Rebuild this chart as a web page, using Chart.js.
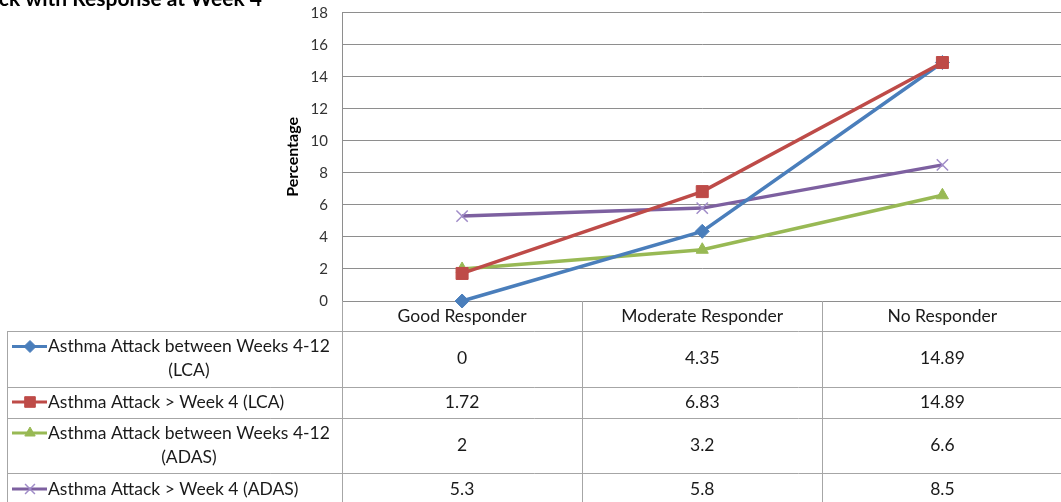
<!DOCTYPE html>
<html>
<head>
<meta charset="utf-8">
<script src="https://cdn.jsdelivr.net/npm/chart.js@4.4.1/dist/chart.umd.min.js"></script>
<style>
  html, body { margin: 0; padding: 0; background: #fff; overflow: hidden; }
</style>
</head>
<body>
<canvas id="myChart" width="1072" height="502"></canvas>
<script>
// Datos del gráfico
const categories = ['Good Responder', 'Moderate Responder', 'No Responder'];
const seriesNames = [
  ['Asthma Attack between Weeks 4-12', '(LCA)'],
  ['Asthma Attack > Week 4 (LCA)'],
  ['Asthma Attack between Weeks 4-12', '(ADAS)'],
  ['Asthma Attack > Week 4 (ADAS)']
];
const lcaBetween = [0, 4.35, 14.89];
const lcaAfter = [1.72, 6.83, 14.89];
const adasBetween = [2, 3.2, 6.6];
const adasAfter = [5.3, 5.8, 8.5];
const yTicks = [0, 2, 4, 6, 8, 10, 12, 14, 16, 18];
const titleText = 'Asthma Attack with Response at Week 4';

const FONT = 'Lato, "Liberation Sans", sans-serif';
const GRID = '#8e8e8e';
const TABLE_LINE = '#a6a6a6';

// Filas de la tabla (bordes y centro de texto)
const rowLines = [331, 386.5, 417.5, 473];
const rowMids = [358.5, 402, 445, 489];

const ctx = document.getElementById('myChart').getContext('2d');

// Plugin para dibujar la tabla de datos y el título recortado
const dataTable = {
  id: 'dataTable',
  afterDraw(chart) {
    const c = chart.ctx;
    const area = chart.chartArea;
    const xs = chart.scales.x;
    const colW = (area.right - area.left) / categories.length;
    c.save();

    // título (recortado arriba)
    c.fillStyle = '#000';
    c.font = 'bold 21px ' + FONT;
    c.textAlign = 'right';
    c.textBaseline = 'alphabetic';
    c.fillText(titleText, 262, 6);

    // líneas de la tabla
    c.strokeStyle = TABLE_LINE;
    c.lineWidth = 1;
    c.beginPath();
    rowLines.forEach(y => {
      c.moveTo(7, Math.round(y) + 0.5);
      c.lineTo(area.right, Math.round(y) + 0.5);
    });
    c.moveTo(7.5, rowLines[0]);
    c.lineTo(7.5, 502);
    for (let i = 1; i < categories.length; i++) {
      const x = Math.round(area.left + colW * i) + 0.5;
      c.moveTo(x, area.bottom);
      c.lineTo(x, 502);
    }
    c.moveTo(Math.round(area.left) + 0.5, area.bottom);
    c.lineTo(Math.round(area.left) + 0.5, 502);
    c.stroke();

    // filas
    c.font = '17.5px ' + FONT;
    c.textBaseline = 'middle';
    chart.data.datasets.forEach((ds, i) => {
      const mid = rowMids[i];
      const lines = seriesNames[i];
      const lh = 24;
      const firstY = mid - (lines.length - 1) * lh / 2;

      // clave de leyenda
      c.strokeStyle = ds.borderColor;
      c.lineWidth = 3;
      c.beginPath();
      c.moveTo(12, firstY);
      c.lineTo(47, firstY);
      c.stroke();
      c.fillStyle = ds.pointBackgroundColor;
      c.strokeStyle = ds.pointBorderColor;
      c.lineWidth = ds.pointBorderWidth;
      Chart.helpers.drawPoint(c, {
        pointStyle: ds.pointStyle,
        radius: ds.pointRadius - 1,
        rotation: 0,
        borderWidth: ds.pointBorderWidth
      }, 30, firstY);

      // texto
      c.fillStyle = '#1a1a1a';
      const blockW = Math.max(...lines.map(l => c.measureText(l).width));
      c.textAlign = 'center';
      lines.forEach((l, k) => c.fillText(l, 48 + blockW / 2, firstY + k * lh));

      // valores
      ds.data.forEach((v, j) => {
        c.fillText(String(v), xs.getPixelForValue(j), mid);
      });
    });
    c.restore();
  }
};

const chart = new Chart(ctx, {
  type: 'line',
  data: {
    labels: categories,
    datasets: [
      {
        label: seriesNames[0].join(' '),
        data: lcaBetween,
        order: 1,
        borderColor: '#4A7EBB',
        pointBackgroundColor: '#4A7EBB',
        pointBorderColor: '#4A7EBB',
        pointBorderWidth: 1,
        pointStyle: 'rectRot',
        pointRadius: 7
      },
      {
        label: seriesNames[1].join(' '),
        data: lcaAfter,
        order: 0,
        borderColor: '#BE4B48',
        pointBackgroundColor: '#BE4B48',
        pointBorderColor: '#BE4B48',
        pointBorderWidth: 1,
        pointStyle: 'rect',
        pointRadius: 8.5
      },
      {
        label: seriesNames[2].join(' '),
        data: adasBetween,
        order: 2,
        borderColor: '#98B954',
        pointBackgroundColor: '#98B954',
        pointBorderColor: '#98B954',
        pointBorderWidth: 1,
        pointStyle: 'triangle',
        pointRadius: 7
      },
      {
        label: seriesNames[3].join(' '),
        data: adasAfter,
        order: 3,
        borderColor: '#7D60A0',
        pointBackgroundColor: '#7D60A0',
        pointBorderColor: '#A08CC8',
        pointBorderWidth: 1.5,
        pointStyle: 'crossRot',
        pointRadius: 8
      }
    ]
  },
  options: {
    responsive: false,
    animation: false,
    layout: { padding: { top: 12.7, left: 0, right: 0, bottom: 0 } },
    elements: {
      line: { borderWidth: 3.5, tension: 0, fill: false }
    },
    datasets: {
      line: { clip: false }
    },
    plugins: {
      legend: { display: false },
      tooltip: { enabled: false }
    },
    scales: {
      x: {
        type: 'category',
        offset: true,
        afterFit: s => { s.height = 201; s.paddingLeft = 0; s.paddingRight = 0; },
        grid: { display: false, drawTicks: false },
        border: { display: true, color: GRID, width: 1 },
        ticks: {
          color: '#1a1a1a',
          font: { family: FONT, size: 17.5 },
          padding: 5,
          maxRotation: 0,
          autoSkip: false
        }
      },
      y: {
        min: 0,
        max: 18,
        afterFit: s => { s.width = 342; s.paddingTop = 0; s.paddingBottom = 0; },
        afterBuildTicks: s => { s.ticks = yTicks.map(v => ({ value: v })); },
        grid: { color: GRID, drawTicks: false },
        border: { display: true, color: GRID, width: 1 },
        ticks: {
          color: '#333',
          font: { family: FONT, size: 15 },
          padding: 14
        },
        title: {
          display: true,
          text: 'Percentage',
          color: '#000',
          font: { family: FONT, size: 16, weight: 'bold' },
          padding: { top: 283, bottom: 0 }
        }
      }
    }
  },
  plugins: [dataTable]
});
</script>
</body>
</html>
